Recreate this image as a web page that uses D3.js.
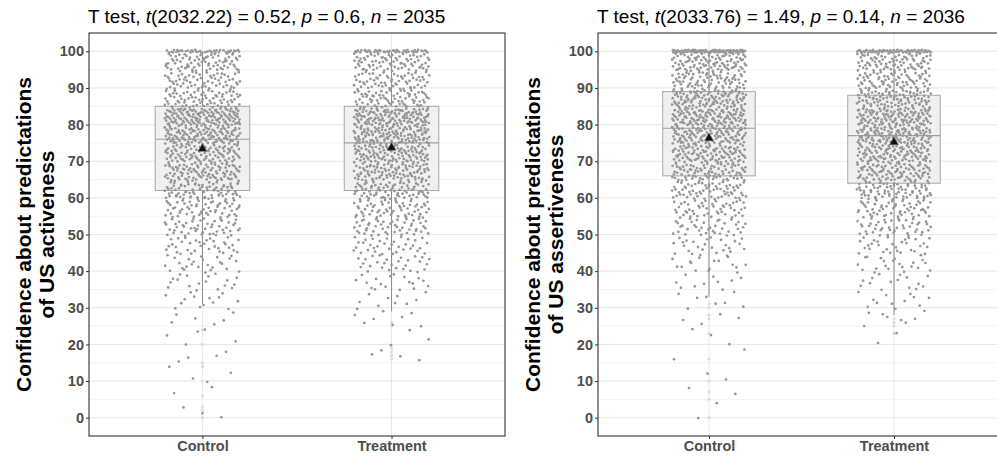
<!DOCTYPE html>
<html>
<head>
<meta charset="utf-8">
<script src="https://cdn.jsdelivr.net/npm/d3@7"></script>
<style>
    body { margin: 0; background: #fff; }
    svg { display: block; font-family: "Liberation Sans", Arial, sans-serif; }
</style>
</head>
<body>
<div id="chart"></div>
<script>
var categories = ["Control", "Treatment"];
var yTickValues = [0, 10, 20, 30, 40, 50, 60, 70, 80, 90, 100];
var yMinorValues = [5, 15, 25, 35, 45, 55, 65, 75, 85, 95];

// start of each 5-point bin of the response scale (last bin = exactly 100)
var binStarts = [0, 5, 10, 15, 20, 25, 30, 35, 40, 45, 50, 55, 60, 65, 70, 75, 80, 85, 90, 95, 100];

// panel 1: activeness
var activeTitle = ["T test, ", "t", "(2032.22) = 0.52, ", "p", " = 0.6, ", "n", " = 2035"];
var activeYTitle = ["Confidence about predictations", "of US activeness"];
var activeControlCounts   = [3, 2, 4, 4, 5, 6, 14, 18, 26, 34, 50, 58, 80, 95, 95, 125, 145, 75, 65, 75, 40];
var activeTreatmentCounts = [0, 0, 0, 4, 3, 8, 10, 18, 28, 35, 50, 60, 80, 95, 110, 125, 135, 75, 65, 75, 45];
var activeQ1 = [62, 62];
var activeMedian = [76, 75];
var activeQ3 = [85, 85];
var activeWhiskerLow = [31, 29];
var activeWhiskerHigh = [100, 100];
var activeMean = [73.4, 73.7];
var activeOutliers = [[24, 20, 15, 14, 10, 6, 3, 2, 0], [26, 25, 19, 18, 17, 16]];

// panel 2: assertiveness
var assertTitle = ["T test, ", "t", "(2033.76) = 1.49, ", "p", " = 0.14, ", "n", " = 2036"];
var assertYTitle = ["Confidence about predictations", "of US assertiveness"];
var assertControlCounts   = [2, 2, 2, 2, 3, 4, 8, 10, 18, 25, 38, 50, 65, 85, 100, 115, 125, 110, 80, 95, 80];
var assertTreatmentCounts = [0, 0, 0, 0, 2, 8, 12, 15, 22, 30, 45, 55, 75, 90, 105, 120, 125, 95, 75, 80, 70];
var assertQ1 = [66, 64];
var assertMedian = [79, 77];
var assertQ3 = [89, 88];
var assertWhiskerLow = [33, 28];
var assertWhiskerHigh = [100, 100];
var assertMean = [76.3, 75.2];
var assertOutliers = [[31, 30, 28, 27, 23, 16, 10, 7, 5, 0], [27, 26, 25, 23]];

var svgWidth = 997;
var svgHeight = 456;
var panelTop = 33;
var panelBottom = 436;

var svg = d3.select("#chart")
    .append("svg")
    .attr("width", svgWidth)
    .attr("height", svgHeight);

// low-discrepancy sequence used for the jitter offsets
function halton(i, b) {
    let f = 1, r = 0;
    while (i > 0) {
        f = f / b;
        r += f * (i % b);
        i = Math.floor(i / b);
    }
    return r;
}

function drawPanel(p) {
    let x = d3.scalePoint()
        .domain(categories)
        .range([p.left, p.right])
        .padding(0.6);
    let step = x.step();

    let y = d3.scaleLinear()
        .domain([-5, 105])
        .range([panelBottom, panelTop]);

    let g = svg.append("g");

    g.append("clipPath").attr("id", "clip" + p.id)
        .append("rect")
        .attr("x", p.left).attr("y", panelTop)
        .attr("width", p.right - p.left).attr("height", panelBottom - panelTop);

    let plot = g.append("g").attr("clip-path", "url(#clip" + p.id + ")");

    // grid
    plot.selectAll(".minor")
        .data(yMinorValues)
        .enter()
        .append("line")
        .attr("x1", p.left).attr("x2", p.right)
        .attr("y1", (d) => y(d)).attr("y2", (d) => y(d))
        .attr("stroke", "#f0f0f0")
        .attr("stroke-width", 0.8);

    plot.selectAll(".major")
        .data(yTickValues)
        .enter()
        .append("line")
        .attr("x1", p.left).attr("x2", p.right)
        .attr("y1", (d) => y(d)).attr("y2", (d) => y(d))
        .attr("stroke", "#e6e6e6")
        .attr("stroke-width", 1);

    plot.selectAll(".vgrid")
        .data(categories)
        .enter()
        .append("line")
        .attr("x1", (d) => x(d)).attr("x2", (d) => x(d))
        .attr("y1", panelTop).attr("y2", panelBottom)
        .attr("stroke", "#e8e8e8")
        .attr("stroke-width", 1);

    // boxplots
    categories.forEach((c, i) => {
        let cx = x(c);
        let half = step * 0.25;

        plot.append("line")
            .attr("x1", cx).attr("x2", cx)
            .attr("y1", y(p.whiskerLow[i])).attr("y2", y(p.q1[i]))
            .attr("stroke", "#8a8a8a").attr("stroke-width", 1);
        plot.append("line")
            .attr("x1", cx).attr("x2", cx)
            .attr("y1", y(p.q3[i])).attr("y2", y(p.whiskerHigh[i]))
            .attr("stroke", "#8a8a8a").attr("stroke-width", 1);

        plot.append("rect")
            .attr("x", cx - half)
            .attr("y", y(p.q3[i]))
            .attr("width", half * 2)
            .attr("height", y(p.q1[i]) - y(p.q3[i]))
            .attr("fill", "#f0f0f0")
            .attr("stroke", "#a6a6a6")
            .attr("stroke-width", 1);

        plot.append("line")
            .attr("x1", cx - half).attr("x2", cx + half)
            .attr("y1", y(p.median[i])).attr("y2", y(p.median[i]))
            .attr("stroke", "#a0a0a0").attr("stroke-width", 1.2);

        plot.selectAll(".out" + i)
            .data(p.outliers[i])
            .enter()
            .append("circle")
            .attr("cx", cx)
            .attr("cy", (d) => y(d))
            .attr("r", 1.6)
            .attr("fill", "#dcdcdc");
    });

    // jittered responses
    categories.forEach((c, i) => {
        let counts = p.counts[i];
        let pts = [];
        let k = 1 + i * 3000 + p.id * 7000;
        binStarts.forEach((b, j) => {
            for (let n = 0; n < counts[j]; n++) {
                let hx = halton(k, 2);
                let hy = halton(k, 3);
                k++;
                let v = b === 100 ? 100 + (hy - 0.5) * 0.8 : b - 0.4 + hy * 4.8;
                pts.push({ v: v, dx: (hx - 0.5) * 0.4 });
            }
        });

        plot.selectAll(".pt" + i)
            .data(pts)
            .enter()
            .append("circle")
            .attr("cx", (d) => x(c) + d.dx * step)
            .attr("cy", (d) => y(d.v))
            .attr("r", 1.35)
            .attr("fill", "#979797");
    });

    // means
    plot.selectAll(".mean")
        .data(categories)
        .enter()
        .append("path")
        .attr("d", d3.symbol(d3.symbolTriangle).size(34))
        .attr("transform", (d, i) => "translate(" + x(d) + "," + y(p.mean[i]) + ")")
        .attr("fill", "#111")
        .attr("stroke", "#666")
        .attr("stroke-width", 0.6);

    // border
    g.append("rect")
        .attr("x", p.left).attr("y", panelTop)
        .attr("width", p.right - p.left).attr("height", panelBottom - panelTop)
        .attr("fill", "none")
        .attr("stroke", "#333")
        .attr("stroke-width", 1.1);

    // axes
    let yAxis = d3.axisLeft(y)
        .tickValues(yTickValues)
        .tickSize(3)
        .tickPadding(2);
    let ya = g.append("g")
        .attr("transform", "translate(" + p.left + ",0)")
        .call(yAxis);
    ya.select(".domain").remove();
    ya.selectAll("line").attr("stroke", "#333");
    ya.selectAll("text")
        .attr("font-size", "14.5px")
        .attr("font-weight", "bold")
        .attr("fill", "#4d4d4d")
        .attr("font-family", "Liberation Sans, Arial, sans-serif");

    let xAxis = d3.axisBottom(x)
        .tickSize(3)
        .tickPadding(2);
    let xa = g.append("g")
        .attr("transform", "translate(0," + panelBottom + ")")
        .call(xAxis);
    xa.select(".domain").remove();
    xa.selectAll("line").attr("stroke", "#333");
    xa.selectAll("text")
        .attr("font-size", "14.5px")
        .attr("font-weight", "bold")
        .attr("fill", "#4d4d4d")
        .attr("font-family", "Liberation Sans, Arial, sans-serif");

    // title
    let t = g.append("text")
        .attr("x", p.left - 1)
        .attr("y", 23)
        .attr("font-size", "19px")
        .attr("fill", "#000");
    p.title.forEach((s, i) => {
        t.append("tspan")
            .attr("font-style", i % 2 === 1 ? "italic" : "normal")
            .text(s);
    });

    // y title
    let cy = (panelTop + panelBottom) / 2;
    p.yTitle.forEach((s, i) => {
        g.append("text")
            .attr("transform", "translate(" + (p.left - 58 + i * 23) + "," + cy + ") rotate(-90)")
            .attr("text-anchor", "middle")
            .attr("font-size", "21px")
            .attr("font-weight", "bold")
            .attr("fill", "#000")
            .text(s);
    });
}

drawPanel({
    id: 0, left: 89, right: 505,
    title: activeTitle, yTitle: activeYTitle,
    counts: [activeControlCounts, activeTreatmentCounts],
    q1: activeQ1, median: activeMedian, q3: activeQ3,
    whiskerLow: activeWhiskerLow, whiskerHigh: activeWhiskerHigh,
    mean: activeMean, outliers: activeOutliers
});

drawPanel({
    id: 1, left: 598, right: 1005,
    title: assertTitle, yTitle: assertYTitle,
    counts: [assertControlCounts, assertTreatmentCounts],
    q1: assertQ1, median: assertMedian, q3: assertQ3,
    whiskerLow: assertWhiskerLow, whiskerHigh: assertWhiskerHigh,
    mean: assertMean, outliers: assertOutliers
});
</script>
</body>
</html>
